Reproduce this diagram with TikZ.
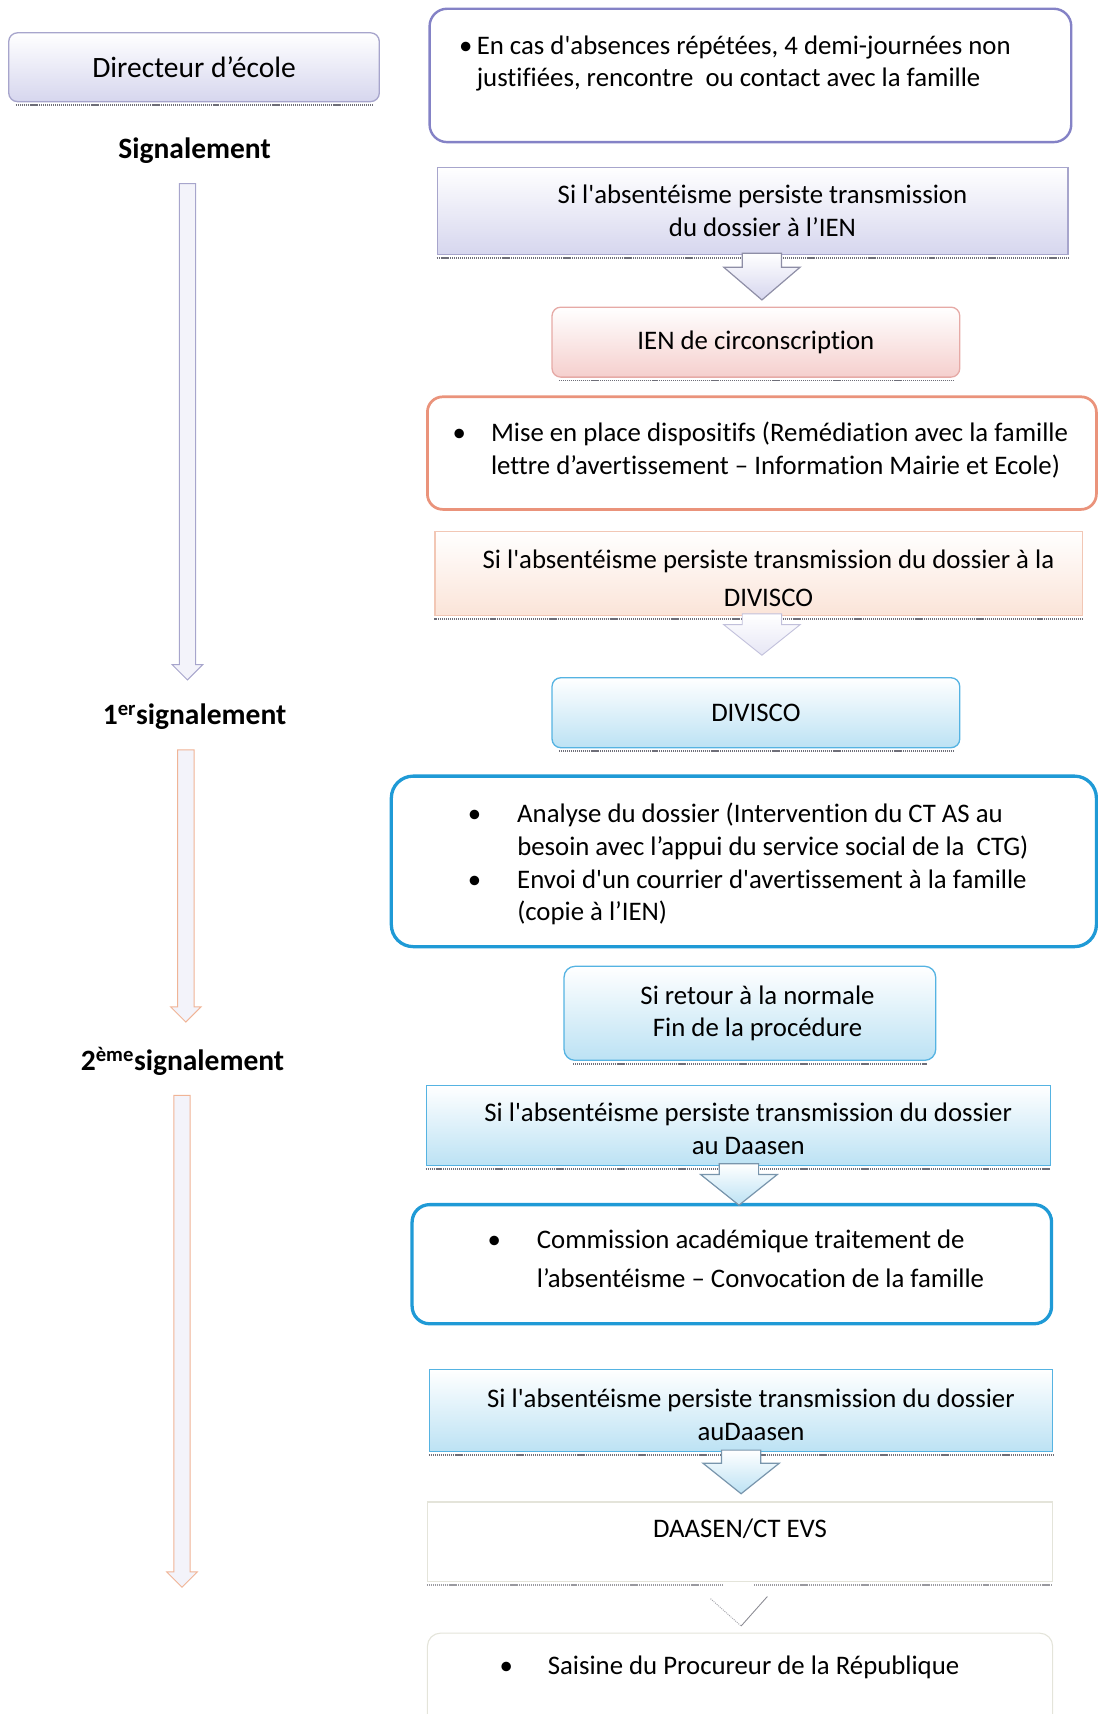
\documentclass[tikz,border=0pt]{standalone}
\usepackage{fontspec}
\setmainfont{Carlito}[Ligatures={TeXOff,NoCommon}]
\usetikzlibrary{calc}
\definecolor{lavD}{HTML}{A7A5CC}
\definecolor{lavP}{HTML}{8482C6}
\definecolor{lavF}{HTML}{D6D6EE}
\definecolor{lavL}{HTML}{F3F3FA}
\definecolor{pinkD}{HTML}{E6AAA6}
\definecolor{pinkF}{HTML}{F5CFCD}
\definecolor{salm}{HTML}{EA937B}
\definecolor{peachD}{HTML}{F2C7B5}
\definecolor{peachF}{HTML}{FBE4D8}
\definecolor{peachA}{HTML}{F0B496}
\definecolor{blueT}{HTML}{1F9AD6}
\definecolor{blueD}{HTML}{55B3E2}
\definecolor{blueF}{HTML}{BCE2F4}
\definecolor{blueA}{HTML}{7895AC}
\definecolor{grayA}{HTML}{8E8EA6}
\definecolor{faint}{HTML}{E4E4DA}
\definecolor{shad}{HTML}{6E6E78}
\newcommand\bul[1]{\makebox[0pt][r]{\textbullet\hspace{#1}}}
\newcommand\rs{\hspace*{18pt}}
\newcommand\vblock[6]{\draw[#1] let \p1=#2, \p2=#3 in
  (\x1-#4,\y1) -- (\x1+#4,\y1) -- (\x1+#4,\y2+#6) -- (\x1+#5,\y2+#6)
  -- (\x1,\y2) -- (\x1-#5,\y2+#6) -- (\x1-#4,\y2+#6) -- cycle;}
\begin{document}
\begin{tikzpicture}[x=1pt,y=-1pt,
  tx/.style={font=\fontsize{24.5}{30}\selectfont, inner sep=0pt},
  lbl/.style={font=\fontsize{27}{30}\selectfont\bfseries, inner sep=0pt},
  gbox/.style={tx, align=center, line width=1.2pt},
  lavbox/.style={gbox, draw=lavD, top color=white, bottom color=lavF},
  pinkbox/.style={gbox, draw=pinkD, top color=white, bottom color=pinkF},
  peachbox/.style={gbox, draw=peachD, top color=white, bottom color=peachF},
  bluebox/.style={gbox, draw=blueD, top color=white, bottom color=blueF},
  framebox/.style={fill=white, inner sep=0pt},
  shadl/.style={shad, line width=1.6pt, dash pattern=on 1pt off 0.8pt},
  larrA/.style={draw=lavD, line width=0.9pt, fill=lavL},
  larrB/.style={draw=peachA, line width=0.9pt, fill=lavL},
  barrLav/.style={draw=grayA, line width=1.1pt, top color=white, bottom color=lavF},
  barrPale/.style={draw=lavD!70, line width=0.8pt, top color=white, bottom color=lavF!60},
  barrBlue/.style={draw=blueA, line width=1.1pt, top color=white, bottom color=blueF},
  faintl/.style={draw=faint, line width=1pt}
]
\useasboundingbox (0,0) rectangle (1004,1568);

% ---------- left column ----------
\node[lavbox, font=\fontsize{27}{30}\selectfont, rounded corners=8pt, minimum width=339pt, minimum height=63pt] (dir) at (177.5,61.5) {Directeur d’école};
\node[lbl] (sig) at (178,138) {Signalement};
\node[lbl] (sig1) at (178,656) {1\textsuperscript{er}signalement};
\node[lbl] (sig2) at (167,971) {2\textsuperscript{ème}signalement};
\coordinate (end3) at (166.5,1452);

\vblock{larrA}{($(sig)+(-6.5,30)$)}{($(sig1)+(-6.5,-34)$)}{7.5pt}{14pt}{14pt}
\vblock{larrB}{($(sig1)+(-8,30)$)}{($(sig2)+(3,-36)$)}{7.5pt}{14pt}{14pt}
\vblock{larrB}{($(sig2)+(-0.5,31)$)}{(end3)}{7.5pt}{14pt}{14pt}

% ---------- right column ----------
\node[framebox, draw=lavP, line width=2.2pt, rounded corners=16pt, minimum width=587pt, minimum height=122pt] (A) at (686.5,69) {};
\node[tx, align=left, anchor=west] (At) at (436,58) {\bul{4pt}En cas d'absences répétées, 4 demi-journées non\\justifiées, rencontre\ \ ou contact avec la famille};

\node[lavbox, minimum width=577pt, minimum height=80pt] (B) at (688.5,193) {\rs Si l'absentéisme persiste transmission\\\rs du dossier à l’IEN};

\node[pinkbox, rounded corners=8pt, minimum width=373pt, minimum height=64pt] (C) at (691.5,313) {IEN de circonscription};

\node[framebox, draw=salm, line width=2.5pt, rounded corners=14pt, minimum width=612pt, minimum height=103pt] (D) at (697,414.5) {};
\node[tx, align=left, anchor=west] (Dt) at (449,412) {\bul{23pt}Mise en place dispositifs (Remédiation avec la famille\\lettre d’avertissement – Information Mairie et Ecole)};

\node[peachbox, minimum width=592pt, minimum height=77pt] (E) at (694,524.5) {\rule{0pt}{26pt}\rs Si l'absentéisme persiste transmission du dossier à la\\[4pt]\rs DIVISCO};

\node[bluebox, rounded corners=8pt, minimum width=373pt, minimum height=64pt] (F) at (691.5,652) {DIVISCO};

\node[framebox, draw=blueT, line width=3pt, rounded corners=20pt, minimum width=645pt, minimum height=156pt] (G) at (680.5,788) {};
\node[tx, align=left, anchor=west] (Gt) at (473,790.5) {\bul{33pt}Analyse du dossier (Intervention du CT AS au\\besoin avec l’appui du service social de la\ \ CTG)\\\bul{33pt}Envoi d'un courrier d'avertissement à la famille\\(copie à l’IEN)};

\node[bluebox, rounded corners=10pt, minimum width=340pt, minimum height=86pt] (H) at (686,927) {\hspace*{14pt}Si retour à la normale\\\hspace*{14pt}Fin de la procédure};

\node[bluebox, minimum width=571pt, minimum height=73pt] (I) at (675.5,1029.5) {\rule{0pt}{24pt}\rs Si l'absentéisme persiste transmission du dossier\\\rs au Daasen};

\node[framebox, draw=blueT, line width=3pt, rounded corners=16pt, minimum width=585pt, minimum height=109pt] (J) at (669.5,1156.5) {};
\node[tx, font=\fontsize{24.5}{35}\selectfont, align=left, anchor=west] (Jt) at (491,1151.5) {\bul{33pt}Commission académique traitement de\\l’absentéisme – Convocation de la famille};

\node[bluebox, minimum width=570pt, minimum height=75pt] (K) at (678,1290.5) {\rule{0pt}{24pt}\rs Si l'absentéisme persiste transmission du dossier\\\rs auDaasen};

\node[framebox, faintl, tx, text depth=25pt, minimum width=572pt, minimum height=73pt] (L) at (677,1410.5) {DAASEN/CT EVS};

\node[framebox, faintl, rounded corners=12pt, minimum width=572pt, minimum height=100pt] (M) at (677,1544) {};
\node[tx, anchor=west] (Mt) at (501,1525) {\bul{32pt}Saisine du Procureur de la République};

% ---------- shadows ----------
\foreach \n/\r in {dir/7, B/0, C/7, E/0, F/7, H/9, I/0, K/0}
  \draw[shadl] ($(\n.south west)+(\r,2.5)$) -- ($(\n.south east)+(-\r,2.5)$);
\draw[shadl, shad!70] ($(L.south west)+(0,2.5)$) -- ($(L.south)+(-15,2.5)$);
\draw[shadl, shad!70] ($(L.south)+(13,2.5)$) -- ($(L.south east)+(0,2.5)$);

% ---------- block arrows ----------
\vblock{barrLav}{($(B.south)+(8.5,-2)$)}{($(C.north)+(5.5,-6)$)}{18pt}{35pt}{30pt}
\vblock{barrPale}{($(E.south)+(3,-2)$)}{($(F.north)+(5.5,-20)$)}{18pt}{35pt}{28pt}
\vblock{barrBlue}{($(I.south)+(0.5,-2)$)}{($(J.north)+(0,2)$)}{18pt}{35pt}{28pt}
\vblock{barrBlue}{($(K.south)+(0,-2)$)}{($(L.north)+(0,-7)$)}{18pt}{35pt}{28pt}
\draw[shad!60, line width=0.9pt, densely dotted] ($(L.south)+(-27,15)$) -- ($(M.north)+(1,-6)$);
\draw[shad!80, line width=0.8pt] ($(M.north)+(1,-6)$) -- ($(L.south)+(25,13)$);
\end{tikzpicture}
\end{document}
